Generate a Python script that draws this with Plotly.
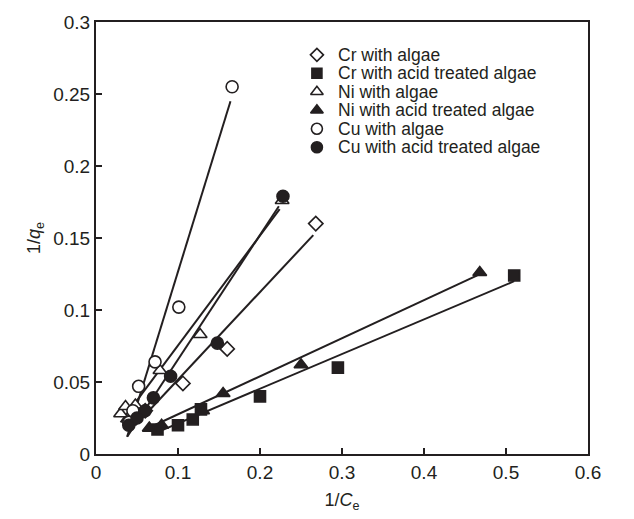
import plotly.graph_objects as go

# Langmuir linearisation: 1/qe versus 1/Ce for each metal / sorbent pair
series_names = [
    "Cr with algae",
    "Cr with acid treated algae",
    "Ni with algae",
    "Ni with acid treated algae",
    "Cu with algae",
    "Cu with acid treated algae",
]

cr_algae_x = [0.045, 0.060, 0.106, 0.160, 0.268]
cr_algae_y = [0.025, 0.030, 0.049, 0.073, 0.160]

cr_acid_x = [0.075, 0.100, 0.118, 0.128, 0.200, 0.295, 0.510]
cr_acid_y = [0.017, 0.020, 0.024, 0.031, 0.040, 0.060, 0.124]

ni_algae_x = [0.030, 0.036, 0.048, 0.078, 0.127, 0.227]
ni_algae_y = [0.028, 0.033, 0.034, 0.058, 0.083, 0.176]

ni_acid_x = [0.065, 0.080, 0.130, 0.155, 0.250, 0.468]
ni_acid_y = [0.018, 0.020, 0.030, 0.042, 0.062, 0.126]

cu_algae_x = [0.040, 0.045, 0.052, 0.072, 0.101, 0.166]
cu_algae_y = [0.022, 0.030, 0.047, 0.064, 0.102, 0.255]

cu_acid_x = [0.040, 0.050, 0.060, 0.070, 0.091, 0.148, 0.228]
cu_acid_y = [0.020, 0.025, 0.030, 0.039, 0.054, 0.077, 0.179]

# fitted straight lines: [x_start, x_end], [y_start, y_end]
cr_algae_fit = ([0.048, 0.265], [0.020, 0.152])
cr_acid_fit = ([0.070, 0.510], [0.014, 0.120])
ni_algae_fit = ([0.030, 0.224], [0.022, 0.170])
ni_acid_fit = ([0.060, 0.465], [0.017, 0.124])
cu_algae_fit = ([0.038, 0.164], [0.012, 0.245])
cu_acid_fit = ([0.038, 0.223], [0.012, 0.172])

x_ticks = [0, 0.1, 0.2, 0.3, 0.4, 0.5, 0.6]
y_ticks = [0, 0.05, 0.1, 0.15, 0.2, 0.25, 0.3]

INK = "#231f20"
FONT = "Liberation Sans, Arial, Helvetica, sans-serif"

styles = [
    dict(symbol="diamond", size=11, color="white"),
    dict(symbol="square", size=11, color=INK),
    dict(symbol="triangle-up", size=12, color="white"),
    dict(symbol="triangle-up", size=12, color=INK),
    dict(symbol="circle", size=12, color="white"),
    dict(symbol="circle", size=12, color=INK),
]

points = [
    (cr_algae_x, cr_algae_y),
    (cr_acid_x, cr_acid_y),
    (ni_algae_x, ni_algae_y),
    (ni_acid_x, ni_acid_y),
    (cu_algae_x, cu_algae_y),
    (cu_acid_x, cu_acid_y),
]
fits = [cr_algae_fit, cr_acid_fit, ni_algae_fit, ni_acid_fit, cu_algae_fit, cu_acid_fit]

fig = go.Figure()

for fx, fy in fits:
    fig.add_trace(go.Scatter(
        x=fx, y=fy, mode="lines",
        line=dict(color=INK, width=2),
        showlegend=False, hoverinfo="skip",
    ))

for name, (px, py), st in zip(series_names, points, styles):
    fig.add_trace(go.Scatter(
        x=px, y=py, mode="markers", name=name,
        marker=dict(symbol=st["symbol"], size=st["size"], color=st["color"],
                    line=dict(color=INK, width=1.6)),
        showlegend=False,
    ))

# key drawn on an overlay axis spanning the plot area (0..1 each way)
key_x = 0.449
key_text_x = 0.487
key_top = 0.924
key_step = 0.0428
for i, (name, st) in enumerate(zip(series_names, styles)):
    ky = key_top - i * key_step
    fig.add_trace(go.Scatter(
        x=[key_x], y=[ky], mode="markers",
        marker=dict(symbol=st["symbol"], size=st["size"] - 1, color=st["color"],
                    line=dict(color=INK, width=1.6)),
        xaxis="x2", yaxis="y2", showlegend=False, hoverinfo="skip",
    ))
    fig.add_annotation(
        x=key_text_x, y=ky, xref="x2", yref="y2", text=name,
        showarrow=False, xanchor="left", yanchor="middle",
        font=dict(family=FONT, size=17.5, color=INK),
    )

axis_common = dict(
    showline=True, linecolor=INK, linewidth=2, mirror=True,
    ticks="inside", ticklen=6, tickwidth=1.5, tickcolor=INK,
    showgrid=False, zeroline=False,
    tickfont=dict(family=FONT, size=19, color=INK),
)

fig.update_layout(
    width=634, height=519,
    margin=dict(l=96, r=46, t=20, b=64),
    plot_bgcolor="white", paper_bgcolor="white",
    font=dict(family=FONT, color=INK),
    xaxis=dict(range=[0, 0.6], tickvals=x_ticks,
               ticktext=[f"{v:g}" for v in x_ticks],
               title=dict(text="1/<i>C</i><sub>e</sub>", standoff=12,
                          font=dict(family=FONT, size=18, color=INK)),
               **axis_common),
    yaxis=dict(range=[0, 0.3], tickvals=y_ticks,
               ticktext=[f"{v:g}" for v in y_ticks],
               title=dict(text="1/<i>q</i><sub>e</sub>", standoff=8,
                          font=dict(family=FONT, size=18, color=INK)),
               **axis_common),
    xaxis2=dict(range=[0, 1], overlaying="x", visible=False),
    yaxis2=dict(range=[0, 1], overlaying="y", visible=False),
    showlegend=False,
)

fig.write_html("out.html")
